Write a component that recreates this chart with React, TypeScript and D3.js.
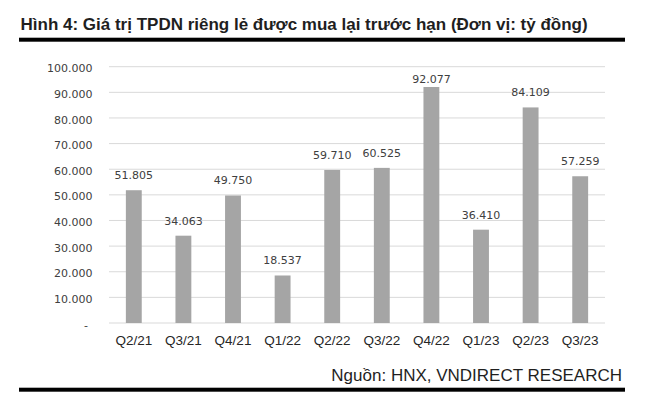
import React, { useRef, useEffect } from 'react';
import * as d3 from 'd3';

// Chart data
const quarters = ['Q2/21', 'Q3/21', 'Q4/21', 'Q1/22', 'Q2/22', 'Q3/22', 'Q4/22', 'Q1/23', 'Q2/23', 'Q3/23'];
const values = [51805, 34063, 49750, 18537, 59710, 60525, 92077, 36410, 84109, 57259];
const yTicks = [0, 10000, 20000, 30000, 40000, 50000, 60000, 70000, 80000, 90000, 100000];

const title = 'Hình 4: Giá trị TPDN riêng lẻ được mua lại trước hạn (Đơn vị: tỷ đồng)';
const source = 'Nguồn: HNX, VNDIRECT RESEARCH';

const width = 659;
const height = 415;

// vietnamese number format: 51.805
const fmt = (v: number) => (v === 0 ? '-' : d3.format(',')(v).replace(/,/g, '.'));

const App: React.FC = () => {
  const svgRef = useRef<SVGSVGElement>(null);

  useEffect(() => {
    if (!svgRef.current) return;
    const svg = d3.select(svgRef.current);
    svg.selectAll('*').remove();

    const plot = { left: 109, right: 605, top: 66.7, bottom: 323 };

    const x = d3.scaleBand()
      .domain(quarters)
      .range([plot.left, plot.right])
      .paddingInner(0.68)
      .paddingOuter(0.34);

    const y = d3.scaleLinear()
      .domain([0, 100000])
      .range([plot.bottom, plot.top]);

    // Title + rule
    svg.append('text')
      .attr('x', 20.5)
      .attr('y', 30)
      .style('font-family', '"Liberation Sans", Arial, sans-serif')
      .style('font-size', '17px')
      .style('font-weight', 'bold')
      .attr('fill', '#1f1f1f')
      .text(title);

    svg.append('rect')
      .attr('x', 19).attr('y', 37.7)
      .attr('width', 606).attr('height', 4)
      .attr('fill', '#000');

    // Grid lines
    svg.append('g')
      .selectAll('line')
      .data(yTicks)
      .enter().append('line')
      .attr('x1', plot.left)
      .attr('x2', plot.right)
      .attr('y1', (d: number) => y(d))
      .attr('y2', (d: number) => y(d))
      .attr('stroke', '#d9d9d9')
      .attr('stroke-width', 1);

    // Y tick labels
    svg.append('g')
      .selectAll('text')
      .data(yTicks)
      .enter().append('text')
      .attr('x', (d: number) => (d === 0 ? 88 : 92.5))
      .attr('y', (d: number) => y(d) + 5.6)
      .attr('text-anchor', 'end')
      .style('font-family', '"DejaVu Sans", Verdana, sans-serif')
      .style('font-size', '11px')
      .attr('fill', '#404040')
      .text((d: number) => fmt(d));

    // Bars
    svg.append('g')
      .selectAll('rect')
      .data(values)
      .enter().append('rect')
      .attr('x', (_d: number, i: number) => x(quarters[i]) as number)
      .attr('width', x.bandwidth())
      .attr('y', (d: number) => y(d))
      .attr('height', (d: number) => plot.bottom - y(d))
      .attr('fill', '#a5a5a5');

    // Value labels (kept inside the plot area like excel does)
    svg.append('g')
      .selectAll('text')
      .data(values)
      .enter().append('text')
      .attr('x', (_d: number, i: number) => (x(quarters[i]) as number) + x.bandwidth() / 2)
      .attr('y', (d: number) => Math.max(y(d) - 11, plot.top + 16))
      .attr('text-anchor', 'middle')
      .style('font-family', '"DejaVu Sans", Verdana, sans-serif')
      .style('font-size', '11px')
      .attr('fill', '#404040')
      .text((d: number) => fmt(d));

    // X category labels
    svg.append('g')
      .selectAll('text')
      .data(quarters)
      .enter().append('text')
      .attr('x', (d: string) => (x(d) as number) + x.bandwidth() / 2)
      .attr('y', 344.5)
      .attr('text-anchor', 'middle')
      .style('font-family', '"Liberation Sans", Arial, sans-serif')
      .style('font-size', '13.5px')
      .attr('fill', '#262626')
      .text((d: string) => d);

    // Source + bottom rule
    svg.append('text')
      .attr('x', 622)
      .attr('y', 381)
      .attr('text-anchor', 'end')
      .style('font-family', '"Liberation Sans", Arial, sans-serif')
      .style('font-size', '17px')
      .attr('fill', '#1f1f1f')
      .text(source);

    svg.append('rect')
      .attr('x', 19).attr('y', 387.7)
      .attr('width', 606).attr('height', 4)
      .attr('fill', '#000');
  }, []);

  return (
    <svg
      ref={svgRef}
      width={width}
      height={height}
      style={{ position: 'absolute', left: 0, top: 0, background: '#fff' }}
    />
  );
};

export default App;
